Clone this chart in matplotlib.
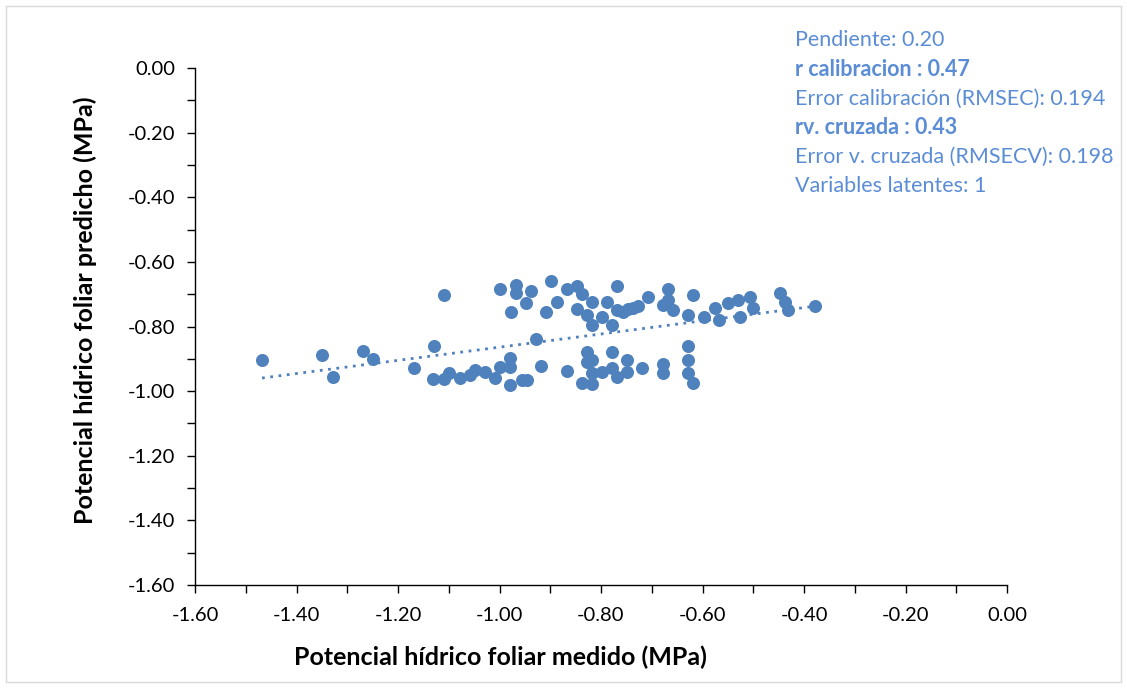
import matplotlib
matplotlib.use("Agg")
import matplotlib.pyplot as plt
import numpy as np
from matplotlib.patches import Rectangle
from matplotlib.ticker import MultipleLocator, FormatStrFormatter

plt.rcParams["font.family"] = ["Lato", "DejaVu Sans"]

measured = [
    -1.468, -1.350, -1.328, -1.269, -1.249, -1.168, -1.129, -1.109,
    -1.131, -1.109, -1.100, -1.078, -1.058, -1.048, -1.029, -1.009,
    -0.999, -0.979, -0.979, -0.979, -0.956, -0.946, -0.918, -0.867,
    -0.828, -0.828, -0.818, -0.818, -0.837, -0.818, -0.798, -0.778,
    -0.778, -0.768, -0.749, -0.749, -0.719, -0.678, -0.678, -0.629,
    -0.629, -0.629, -0.619, -0.928,
    -0.999, -0.967, -0.967, -0.938, -0.899, -0.977, -0.948, -0.908,
    -0.887, -0.867, -0.847, -0.837, -0.818, -0.847, -0.828, -0.818,
    -0.798, -0.788, -0.768, -0.778, -0.768, -0.757, -0.747, -0.737,
    -0.727, -0.707, -0.678, -0.668, -0.668, -0.658, -0.619, -0.629,
    -0.597, -0.575, -0.567, -0.550, -0.530, -0.506, -0.500, -0.526,
    -0.447, -0.437, -0.432, -0.378,
]
predicted = [
    -0.904, -0.889, -0.957, -0.876, -0.901, -0.929, -0.861, -0.703,
    -0.963, -0.963, -0.944, -0.960, -0.950, -0.935, -0.941, -0.960,
    -0.926, -0.898, -0.926, -0.981, -0.966, -0.966, -0.923, -0.938,
    -0.879, -0.910, -0.904, -0.944, -0.975, -0.978, -0.941, -0.879,
    -0.929, -0.957, -0.904, -0.941, -0.929, -0.916, -0.944, -0.861,
    -0.904, -0.944, -0.975, -0.839,
    -0.684, -0.672, -0.697, -0.690, -0.659, -0.755, -0.728, -0.755,
    -0.724, -0.684, -0.675, -0.700, -0.724, -0.746, -0.765, -0.796,
    -0.771, -0.724, -0.675, -0.796, -0.749, -0.755, -0.746, -0.743,
    -0.737, -0.709, -0.734, -0.684, -0.718, -0.749, -0.703, -0.765,
    -0.771, -0.743, -0.780, -0.728, -0.718, -0.709, -0.743, -0.771,
    -0.697, -0.724, -0.749, -0.737,
]

# trend line as drawn in the reference (slope, intercept)
trend_slope = 0.204
trend_intercept = -0.66

stats_lines = [
    ("Pendiente: 0.20", "normal"),
    ("r calibracion : 0.47", "bold"),
    ("Error calibración (RMSEC): 0.194", "normal"),
    ("rv. cruzada : 0.43", "bold"),
    ("Error v. cruzada (RMSECV): 0.198", "normal"),
    ("Variables latentes: 1", "normal"),
]

POINT_COLOR = "#4F81BD"
TEXT_COLOR = "#5B8DD6"
W, H = 1127, 688

fig = plt.figure(figsize=(W / 100, H / 100), dpi=100)
fig.patches.append(Rectangle((0.005, 0.008), 0.99, 0.984, transform=fig.transFigure,
                             fill=False, edgecolor="#D9D9D9", lw=1))
ax = fig.add_axes([195 / W, 1 - 585 / H, 812 / W, 517 / H])

x = np.array(measured)
y = np.array(predicted)
ax.scatter(x, y, s=88, color=POINT_COLOR, zorder=3, linewidths=0)

xs = np.array([x.min(), x.max()])
ax.plot(xs, trend_slope * xs + trend_intercept, color=POINT_COLOR, lw=2,
        linestyle=(0, (1, 2)), dash_capstyle="butt", zorder=2)

ax.set_xlim(-1.6, 0.0)
ax.set_ylim(-1.6, 0.0)
ax.xaxis.set_major_locator(MultipleLocator(0.2))
ax.xaxis.set_minor_locator(MultipleLocator(0.1))
ax.yaxis.set_major_locator(MultipleLocator(0.2))
ax.yaxis.set_minor_locator(MultipleLocator(0.1))
ax.xaxis.set_major_formatter(FormatStrFormatter("%.2f"))
ax.yaxis.set_major_formatter(FormatStrFormatter("%.2f"))

for side in ("top", "right"):
    ax.spines[side].set_visible(False)
for side in ("left", "bottom"):
    ax.spines[side].set_color("#000000")
    ax.spines[side].set_linewidth(1)

ax.tick_params(which="both", direction="out", length=6, width=1, color="#000000")
ax.tick_params(which="major", labelsize=14.5)
ax.tick_params(axis="x", which="major", pad=10)
ax.tick_params(axis="y", which="major", pad=8)

fig.text(500 / W, 1 - 657 / H, "Potencial hídrico foliar medido (MPa)", fontsize=18,
         fontweight="bold", ha="center", va="center")
fig.text(85 / W, 1 - 310 / H, "Potencial hídrico foliar predicho (MPa)", fontsize=18,
         fontweight="bold", ha="center", va="center", rotation=90)

for i, (txt, weight) in enumerate(stats_lines):
    fig.text(795 / W, 1 - (40 + 29.3 * i) / H, txt, color=TEXT_COLOR,
             fontsize=15.5, fontweight=weight, ha="left", va="center")

fig.savefig("out.png", dpi=100)
